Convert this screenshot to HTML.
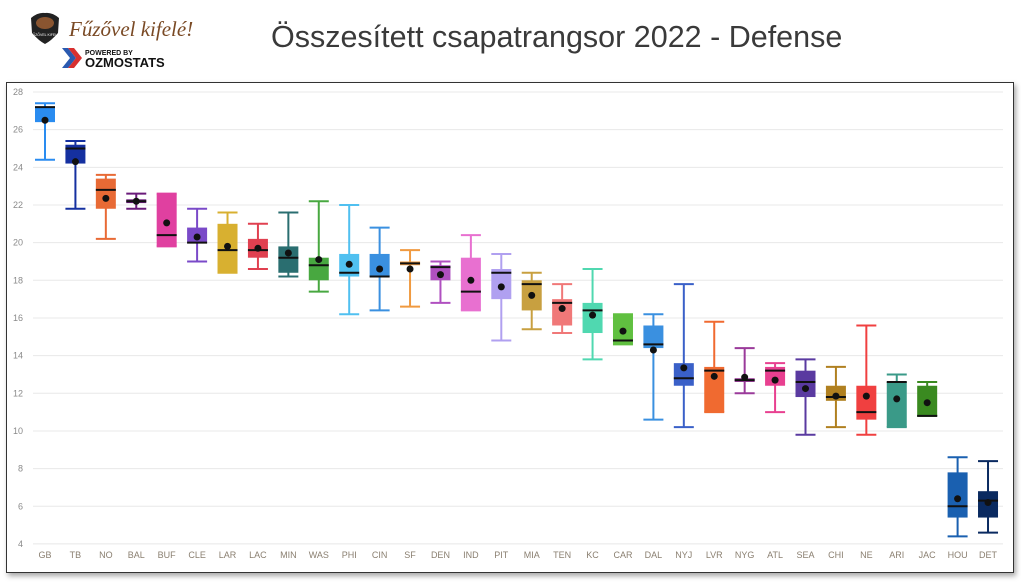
<!DOCTYPE html>
<html><head><meta charset="utf-8"><style>
body{margin:0;background:#fff;width:1021px;height:582px;overflow:hidden;font-family:"Liberation Sans",sans-serif;position:relative}
#t{position:absolute;left:271px;top:20px;font-size:30.5px;color:#3a3a3a;white-space:nowrap;font-weight:300}
#fr{position:absolute;left:6px;top:82px;width:1006px;height:489px;border:1px solid #333;box-shadow:2px 3px 5px rgba(0,0,0,.35)}
</style></head><body>
<svg width="40" height="40" style="position:absolute;left:28px;top:11px">
<path d="M3 7 Q10 1 17 2 Q24 1 31 7 L30 22 Q23 30 17 33 Q11 30 4 22Z" fill="#222"/>
<ellipse cx="17" cy="12" rx="9" ry="6" fill="#8a5530"/>
<text x="17" y="25" font-size="3.5" fill="#fff" text-anchor="middle">FŰZŐVEL KIFELÉ</text>
</svg>
<div style="position:absolute;left:69px;top:17px;font-size:21px;color:#7a4a25;font-family:'Liberation Serif',serif;font-style:italic">Fűzővel kifelé!</div>
<svg width="120" height="30" style="position:absolute;left:60px;top:46px">
<polygon points="2,2 8,2 16,12 8,22 2,22 10,12" fill="#2a5ab0"/><polygon points="8,2 14,2 22,12 14,22 8,22 16,12" fill="#d83030"/>
<text x="25" y="9" font-size="7" font-weight="bold" fill="#111">POWERED BY</text>
<text x="25" y="21" font-size="13" font-weight="bold" fill="#111">OZMOSTATS</text>
</svg>
<div id="t">Összesített csapatrangsor 2022 - Defense</div>
<div id="fr"></div>
<svg id="c" width="1021" height="582" style="position:absolute;left:0;top:0"></svg>
<script>
var D=[["GB",24.4,26.4,27.2,27.2,27.4,26.5,"#2a8cf0"],["TB",21.8,24.2,25.0,25.2,25.4,24.3,"#1530a0"],["NO",20.2,21.8,22.8,23.4,23.6,22.35,"#e86a35"],["BAL",21.8,22.1,22.2,22.3,22.6,22.2,"#6a1a7a"],["BUF",19.8,19.8,20.4,22.6,22.6,21.05,"#e040a0"],["CLE",19.0,20.0,20.0,20.8,21.8,20.3,"#7a4ac8"],["LAR",18.4,18.4,19.6,21.0,21.6,19.8,"#d8b030"],["LAC",18.6,19.2,19.6,20.2,21.0,19.7,"#e04050"],["MIN",18.2,18.4,19.2,19.8,21.6,19.45,"#2a6e70"],["WAS",17.4,18.0,18.8,19.2,22.2,19.1,"#48a840"],["PHI",16.2,18.2,18.4,19.4,22.0,18.85,"#50c0f0"],["CIN",16.4,18.2,18.2,19.4,20.8,18.6,"#3a90e0"],["SF",16.6,18.8,18.9,19.0,19.6,18.6,"#f09a40"],["DEN",16.8,18.0,18.7,18.8,19.0,18.3,"#b050c0"],["IND",16.4,16.4,17.4,19.2,20.4,18.0,"#e870d0"],["PIT",14.8,17.0,18.4,18.6,19.4,17.65,"#b0a0f0"],["MIA",15.4,16.4,17.8,18.0,18.4,17.2,"#c8a040"],["TEN",15.2,15.6,16.8,17.0,17.8,16.5,"#f07878"],["KC",13.8,15.2,16.4,16.8,18.6,16.15,"#50d8b0"],["CAR",14.6,14.6,14.8,16.2,16.2,15.3,"#60c040"],["DAL",10.6,14.4,14.6,15.6,16.2,14.3,"#3a90e0"],["NYJ",10.2,12.4,12.8,13.6,17.8,13.35,"#3a60c8"],["LVR",11.0,11.0,13.2,13.4,15.8,12.9,"#f06a30"],["NYG",12.0,12.6,12.7,12.8,14.4,12.85,"#9a3a9a"],["ATL",11.0,12.4,13.2,13.4,13.6,12.7,"#e84090"],["SEA",9.8,11.8,12.6,13.2,13.8,12.25,"#5a3aa0"],["CHI",10.2,11.6,11.8,12.4,13.4,11.85,"#b08020"],["NE",9.8,10.6,11.0,12.4,15.6,11.85,"#f04040"],["ARI",10.2,10.2,12.6,12.6,13.0,11.7,"#3a9a88"],["JAC",10.8,10.8,10.8,12.4,12.6,11.5,"#3a8a20"],["HOU",4.4,5.4,6.0,7.8,8.6,6.4,"#1a60b0"],["DET",4.6,5.4,6.3,6.8,8.4,6.2,"#0a2a60"]];
function Y(v){return 92+(28-v)*18.83}
var s="";
for(var v=4;v<=28;v+=2){var y=Y(v);s+='<line x1="33" x2="1003" y1="'+y+'" y2="'+y+'" stroke="#e8e8e8"/><text x="23" y="'+(y+3)+'" font-size="9" fill="#8a8a8a" text-anchor="end">'+v+'</text>';}
D.forEach(function(d,i){var x=45+i*30.42,c=d[7];
s+='<line x1="'+x+'" x2="'+x+'" y1="'+Y(d[5])+'" y2="'+Y(d[1])+'" stroke="'+c+'" stroke-width="2"/>';
s+='<line x1="'+(x-10)+'" x2="'+(x+10)+'" y1="'+Y(d[5])+'" y2="'+Y(d[5])+'" stroke="'+c+'" stroke-width="2"/>';
s+='<line x1="'+(x-10)+'" x2="'+(x+10)+'" y1="'+Y(d[1])+'" y2="'+Y(d[1])+'" stroke="'+c+'" stroke-width="2"/>';
var h=Math.max(Y(d[2])-Y(d[4]),2);
s+='<rect x="'+(x-10)+'" y="'+Y(d[4])+'" width="20" height="'+h+'" fill="'+c+'"/>';
s+='<line x1="'+(x-10)+'" x2="'+(x+10)+'" y1="'+Y(d[3])+'" y2="'+Y(d[3])+'" stroke="#111" stroke-width="2"/>';
s+='<circle cx="'+x+'" cy="'+Y(d[6])+'" r="3.5" fill="#111"/>';
s+='<text x="'+x+'" y="558" font-size="9" fill="#8a7f70" text-anchor="middle">'+d[0]+'</text>';});
document.getElementById("c").innerHTML=s;
</script>
</body></html>
